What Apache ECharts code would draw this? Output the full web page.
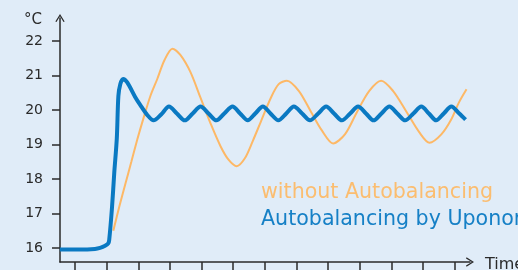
<!DOCTYPE html>
<html>
<head>
<meta charset="utf-8">
<script src="https://cdn.jsdelivr.net/npm/echarts@6/dist/echarts.min.js"></script>
<style>
  html, body { margin: 0; padding: 0; background: #e0ecf8; }
  #chart { width: 518px; height: 270px; }
</style>
</head>
<body>
<div id="chart"></div>
<script>
// tick positions (hours) and temperature labels
const timeTicks = [1, 2, 3, 4, 5, 6, 7, 8, 9, 10, 11, 12, 13];
const tempTicks = [16, 17, 18, 19, 20, 21, 22];

// without Autobalancing
const orangeTime = [2.21, 2.4, 2.59, 2.78, 2.97, 3.16, 3.38, 3.6, 3.83, 4.08, 4.33, 4.65, 4.97, 5.29, 5.6, 5.86, 6.11, 6.37, 6.62, 6.87, 7.19, 7.44, 7.7, 8.08, 8.46, 8.81, 9.16, 9.54, 9.92, 10.3, 10.68, 11.06, 11.48, 11.89, 12.21, 12.59, 12.9, 13.13, 13.38];
const orangeTemp = [16.5, 17.2, 17.85, 18.5, 19.15, 19.75, 20.4, 20.9, 21.45, 21.78, 21.6, 21.1, 20.35, 19.6, 18.95, 18.55, 18.37, 18.6, 19.1, 19.65, 20.35, 20.75, 20.85, 20.55, 19.95, 19.4, 19.03, 19.3, 19.95, 20.55, 20.85, 20.55, 19.95, 19.35, 19.05, 19.3, 19.73, 20.2, 20.6];

// Autobalancing by Uponor
const blueTime = [0.52, 1.16, 1.63, 1.79, 1.95, 2.05, 2.08, 2.17, 2.24, 2.32, 2.37, 2.43, 2.52, 2.65, 2.9, 3.06, 3.29, 3.48, 3.73, 3.97, 4.22, 4.47, 4.72, 4.97, 5.22, 5.47, 5.72, 5.98, 6.22, 6.46, 6.7, 6.94, 7.18, 7.43, 7.68, 7.92, 8.18, 8.43, 8.69, 8.94, 9.19, 9.44, 9.7, 9.95, 10.2, 10.44, 10.69, 10.94, 11.19, 11.44, 11.7, 11.95, 12.19, 12.42, 12.66, 12.9, 13.15, 13.35];
const blueTemp = [15.95, 15.95, 15.97, 16.0, 16.06, 16.13, 16.23, 17.19, 18.18, 19.17, 20.4, 20.75, 20.9, 20.8, 20.38, 20.15, 19.85, 19.7, 19.88, 20.1, 19.9, 19.7, 19.9, 20.1, 19.9, 19.7, 19.9, 20.1, 19.9, 19.7, 19.9, 20.1, 19.9, 19.7, 19.9, 20.1, 19.9, 19.7, 19.9, 20.1, 19.9, 19.7, 19.9, 20.1, 19.9, 19.7, 19.9, 20.1, 19.9, 19.7, 19.9, 20.1, 19.9, 19.7, 19.9, 20.1, 19.9, 19.72];

const orangeName = "without Autobalancing";
const blueName = "Autobalancing by Uponor";

const chevron = "path://M0,8 L5,0 L10,8 L8.8,8.6 L5,2.4 L1.2,8.6 Z";
const axisColor = "#2a2a2a";

const chart = echarts.init(document.getElementById("chart"));
chart.setOption({
  backgroundColor: "#e0ecf8",
  animation: false,
  textStyle: { fontFamily: "DejaVu Sans" },
  grid: { left: 60, right: 48, top: 18, bottom: 8 },
  // x axis title sits past the arrow, partly cut by the bottom edge
  graphic: [
    {
      type: "text",
      left: 485,
      top: 257,
      style: { text: "Time", fill: axisColor, font: "16px 'DejaVu Sans'" },
    },
  ],
  legend: {
    orient: "vertical",
    left: 251,
    top: 177,
    itemWidth: 0,
    itemHeight: 0,
    itemGap: 6,
    icon: "none",
    selectedMode: false,
    textStyle: { fontSize: 20.6, lineHeight: 20, fontFamily: "DejaVu Sans" },
    data: [
      { name: orangeName, textStyle: { color: "#fbbd70" } },
      { name: blueName, textStyle: { color: "#1680c6" } },
    ],
  },
  xAxis: {
    type: "value",
    min: 0.524,
    max: 13.49,
    axisLine: {
      lineStyle: { color: axisColor, width: 1.5 },
      symbol: ["none", chevron],
      symbolSize: [10, 8],
    },
    axisTick: { customValues: timeTicks, length: 8, lineStyle: { color: axisColor, width: 1.5 } },
    axisLabel: { show: false },
    splitLine: { show: false },
  },
  yAxis: {
    type: "value",
    min: 15.59,
    max: 22.67,
    name: "°C",
    nameLocation: "end",
    nameGap: -2,
    nameTextStyle: { color: axisColor, fontSize: 15, align: "right", verticalAlign: "middle", padding: [0, 18, 0, 0] },
    axisLine: {
      show: true,
      lineStyle: { color: axisColor, width: 1.5 },
      symbol: ["none", chevron],
      symbolSize: [10, 8],
    },
    axisTick: { show: true, customValues: tempTicks, length: 8, lineStyle: { color: axisColor, width: 1.5 } },
    axisLabel: { customValues: tempTicks, margin: 17, fontSize: 14, color: axisColor },
    splitLine: { show: false },
  },
  series: [
    {
      name: orangeName,
      type: "line",
      showSymbol: false,
      smooth: 0.3,
      lineStyle: { color: "#fdb866", width: 2 },
      itemStyle: { color: "#fdb866" },
      data: orangeTime.map((t, i) => [t, orangeTemp[i]]),
    },
    {
      name: blueName,
      type: "line",
      showSymbol: false,
      smooth: 0.3,
      lineStyle: { color: "#0a79c2", width: 4 },
      itemStyle: { color: "#0a79c2" },
      data: blueTime.map((t, i) => [t, blueTemp[i]]),
    },
  ],
});
</script>
</body>
</html>
